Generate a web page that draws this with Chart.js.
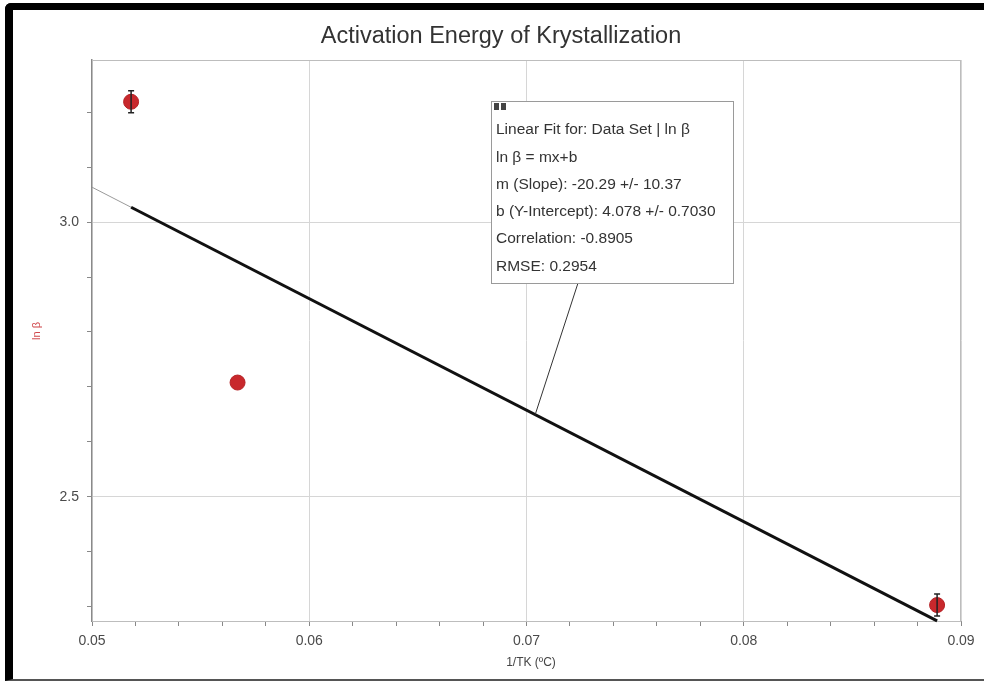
<!DOCTYPE html>
<html>
<head>
<meta charset="utf-8">
<title>Activation Energy of Krystallization</title>
<script src="https://cdn.jsdelivr.net/npm/chart.js@4/dist/chart.umd.min.js"></script>
<style>
  html, body { margin: 0; padding: 0; background: #fff; overflow: hidden; }
  #wrap { position: absolute; left: 0; top: 0; width: 984px; height: 681px; }
  #frame {
    position: absolute; left: 5px; top: 3px; right: -10px; bottom: 0;
    border-top: 7px solid #000; border-left: 8px solid #000; border-bottom: 2px solid #555;
    border-top-left-radius: 6px; pointer-events: none; box-sizing: border-box;
  }
</style>
</head>
<body>
<div id="wrap">
  <canvas id="myChart" width="984" height="681"></canvas>
  <div id="frame"></div>
</div>
<script>
// measured data: 1/T against ln(heating rate)
const invT = [0.0518, 0.0567, 0.0889]
const lnBeta = [3.219, 2.708, 2.303]
const lnBetaErr = [0.02, 0, 0.02]

// linear fit results
const fitSlope = -20.29
const fitIntercept = 4.078
const fitLines = [
  'Linear Fit for: Data Set | ln \u03b2',
  'ln \u03b2 = mx+b',
  'm (Slope): -20.29 +/- 10.37',
  'b (Y-Intercept): 4.078 +/- 0.7030',
  'Correlation: -0.8905',
  'RMSE: 0.2954'
]
const fitCalloutX = 0.0704

const xTickLabels = ['0.05', '0.06', '0.07', '0.08', '0.09']
const yTickLabels = ['2.5', '3.0']

const fit = x => fitSlope * x + fitIntercept
const FONT = '"Liberation Sans", Arial, Helvetica, sans-serif'
const xMin = 0.05, xMax = 0.09

const isMajorX = v => xTickLabels.some(t => Math.abs(parseFloat(t) - v) < 1e-7)
const isMajorY = v => yTickLabels.some(t => Math.abs(parseFloat(t) - v) < 1e-7)

const points = invT.map((x, i) => ({ x: x, y: lnBeta[i] }))
const x0 = Math.min(...invT), x1 = Math.max(...invT)

// plot box, error bars, titles and the fit callout
const extras = {
  id: 'extras',
  beforeDatasetsDraw(chart) {
    const { ctx, chartArea: a } = chart
    ctx.save()
    ctx.strokeStyle = '#bdbdbd'
    ctx.lineWidth = 1
    ctx.strokeRect(a.left + 0.5, a.top + 0.5, a.right - a.left - 1, a.bottom - a.top)
    ctx.restore()
  },
  afterDatasetsDraw(chart) {
    const { ctx, scales } = chart
    const xs = scales.x, ys = scales.y
    ctx.save()
    ctx.strokeStyle = '#222'
    ctx.lineWidth = 1.5
    invT.forEach((x, i) => {
      const e = lnBetaErr[i]
      if (!e) return
      const px = xs.getPixelForValue(x)
      const top = ys.getPixelForValue(lnBeta[i] + e)
      const bot = ys.getPixelForValue(lnBeta[i] - e)
      ctx.beginPath()
      ctx.moveTo(px, top); ctx.lineTo(px, bot)
      ctx.moveTo(px - 3, top); ctx.lineTo(px + 3, top)
      ctx.moveTo(px - 3, bot); ctx.lineTo(px + 3, bot)
      ctx.stroke()
    })
    ctx.restore()
  },
  afterDraw(chart) {
    const { ctx, chartArea: a, scales } = chart
    ctx.save()
    ctx.textAlign = 'center'
    ctx.textBaseline = 'middle'

    // chart title
    ctx.fillStyle = '#333'
    ctx.font = '23.5px ' + FONT
    ctx.fillText('Activation Energy of Krystallization', 501, 37)

    // axis titles
    ctx.fillStyle = '#444'
    ctx.font = '12px ' + FONT
    ctx.fillText('1/TK (\u00baC)', 531, 663)
    ctx.save()
    ctx.translate(37, 331)
    ctx.rotate(-Math.PI / 2)
    ctx.fillStyle = '#d0484c'
    ctx.font = '11px ' + FONT
    ctx.fillText('ln \u03b2', 0, 0)
    ctx.restore()

    // callout box with leader line to the fit
    const bx = 491, by = 101, bw = 242, bh = 182
    const tx = scales.x.getPixelForValue(fitCalloutX)
    const ty = scales.y.getPixelForValue(fit(fitCalloutX))
    ctx.strokeStyle = '#333'
    ctx.lineWidth = 1
    ctx.beginPath()
    ctx.moveTo(578, by + bh)
    ctx.lineTo(tx, ty)
    ctx.stroke()
    ctx.fillStyle = '#fff'
    ctx.fillRect(bx, by, bw, bh)
    ctx.strokeStyle = '#9a9a9a'
    ctx.strokeRect(bx + 0.5, by + 0.5, bw, bh)
    ctx.fillStyle = '#444'
    ctx.fillRect(bx + 3, by + 2, 5, 7)
    ctx.fillRect(bx + 10, by + 2, 5, 7)
    ctx.fillStyle = '#333'
    ctx.font = '15.5px ' + FONT
    ctx.textAlign = 'left'
    fitLines.forEach((t, i) => ctx.fillText(t, bx + 5, by + 29 + i * 27.3))
    ctx.restore()
  }
}

const ctx = document.getElementById('myChart')
const myChart = new Chart(ctx, {
  type: 'scatter',
  data: {
    datasets: [
      {
        label: 'ln \u03b2',
        data: points,
        backgroundColor: '#c8282c',
        borderColor: '#b52226',
        pointRadius: 7.5,
        pointHoverRadius: 7.5,
        order: 0
      },
      {
        // fitted line over the data range
        type: 'line',
        data: [{ x: x0, y: fit(x0) }, { x: x1, y: fit(x1) }],
        borderColor: '#111',
        borderWidth: 3,
        pointRadius: 0,
        clip: false,
        order: 1
      },
      {
        // thin extension back to the axis
        type: 'line',
        data: [{ x: xMin, y: fit(xMin) }, { x: x0, y: fit(x0) }],
        borderColor: '#9a9a9a',
        borderWidth: 1,
        pointRadius: 0,
        order: 2
      }
    ]
  },
  options: {
    responsive: false,
    maintainAspectRatio: false,
    animation: false,
    layout: { padding: { left: 0, right: 23, top: 60, bottom: 0 } },
    plugins: {
      legend: { display: false },
      tooltip: { enabled: false },
      title: { display: false }
    },
    scales: {
      x: {
        type: 'linear',
        min: xMin,
        max: xMax,
        afterFit(s) { s.height = 60 },
        border: { color: '#9a9a9a', width: 1 },
        grid: {
          color: c => isMajorX(c.tick.value) ? '#d6d6d6' : 'rgba(0,0,0,0)',
          tickColor: '#888',
          tickLength: 5
        },
        ticks: {
          stepSize: 0.002,
          autoSkip: false,
          maxRotation: 0,
          includeBounds: false,
          padding: 7,
          color: '#4a4a4a',
          font: { family: FONT, size: 14 },
          callback: v => isMajorX(v) ? xTickLabels.find(t => Math.abs(parseFloat(t) - v) < 1e-7) : ''
        }
      },
      y: {
        type: 'linear',
        min: 2.274,
        max: 3.295,
        afterFit(s) { s.width = 92 },
        border: { color: '#8a8a8a', width: 1.5 },
        grid: {
          color: c => isMajorY(c.tick.value) ? '#d6d6d6' : 'rgba(0,0,0,0)',
          tickColor: '#888',
          tickLength: 5
        },
        ticks: {
          stepSize: 0.1,
          autoSkip: false,
          includeBounds: false,
          padding: 8,
          color: '#4a4a4a',
          font: { family: FONT, size: 14 },
          callback: v => isMajorY(v) ? yTickLabels.find(t => Math.abs(parseFloat(t) - v) < 1e-7) : ''
        }
      }
    }
  },
  plugins: [extras]
})
</script>
</body>
</html>
